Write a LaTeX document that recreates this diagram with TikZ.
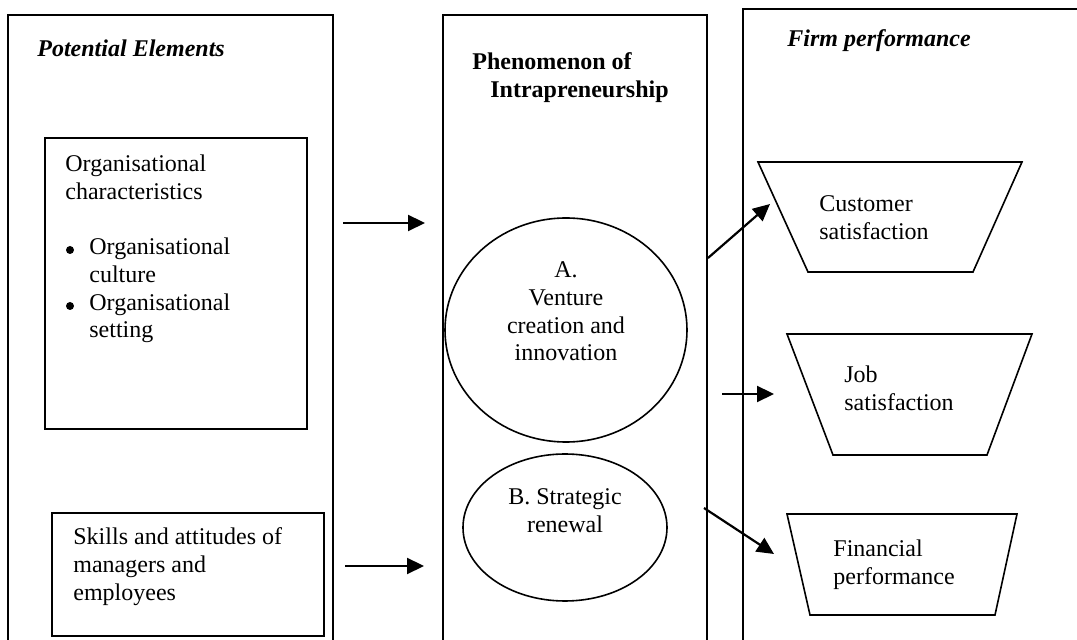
\documentclass[tikz,border=0pt]{standalone}
\usepackage{fontspec}
\setmainfont{Liberation Serif}
\usetikzlibrary{arrows.meta,shapes.geometric}

\tikzset{
  frame/.style={draw, line width=0.8pt},
  label/.style={inner sep=0pt, anchor=base west, font=\fontsize{12}{13.8}\selectfont},
  clabel/.style={label, anchor=base},
  heading/.style={label, font=\fontsize{12}{13.8}\selectfont\bfseries\itshape},
  bulletdot/.style={circle, fill, inner sep=0pt, minimum size=4pt},
  oval/.style={draw, ellipse, line width=0.8pt, inner sep=0pt},
  flow/.style={line width=1.1pt, -{Triangle[length=8.5pt,width=8pt]}}
}
\newcommand{\lines}[1]{\begin{tabular}[t]{@{}l@{}}#1\end{tabular}}
\newcommand{\clines}[1]{\begin{tabular}[t]{@{}c@{}}#1\end{tabular}}

\begin{document}
\begin{tikzpicture}[x=0.5pt,y=-0.5pt]
  \useasboundingbox (0,0) rectangle (1077,640);
  \clip (0,0) rectangle (1077,640);

  % column frames, open at the foot of the page
  \draw[frame] (8,15) rectangle (333,660);
  \draw[frame] (443,15) rectangle (707,660);
  \draw[frame] (743,9) rectangle (1090,660);

  % column headings
  \node[heading] (hpot) at (37,57) {Potential Elements};
  \node[label, font=\fontsize{12}{13.8}\selectfont\bfseries] (hphen) at (472,70)
    {\lines{Phenomenon of\\\hspace{9pt}Intrapreneurship}};
  \node[heading] (hfirm) at (787,47) {Firm performance};

  % potential elements
  \draw[frame] (45,138) rectangle (307,429);
  \node[label] (orgchar) at (65,172) {\lines{Organisational\\characteristics}};
  \node[bulletdot] (bul1) at (70,250) {};
  \node[bulletdot] (bul2) at (70,306) {};
  \node[label] (orglist) at (89,255)
    {\lines{Organisational\\culture\\Organisational\\setting}};

  \draw[frame] (52,513) rectangle (324,636);
  \node[label] (skills) at (73,545)
    {\lines{Skills and attitudes of\\managers and\\employees}};

  % phenomenon of intrapreneurship
  \node[oval, minimum width=121pt, minimum height=112pt] (ovA) at (566,330) {};
  \node[clabel] (txtA) at (566,278)
    {\clines{A.\\Venture\\creation and\\innovation}};
  \node[oval, minimum width=102pt, minimum height=73.5pt] (ovB) at (565,527.5) {};
  \node[clabel] (txtB) at (565,505) {\clines{B. Strategic\\renewal}};

  % firm performance
  \draw[frame] (758,162) -- (1022,162) -- (973,272) -- (808,272) -- cycle;
  \node[label] (cust) at (819,212) {\lines{Customer\\satisfaction}};
  \draw[frame] (787,334) -- (1032,334) -- (987,455) -- (833,455) -- cycle;
  \node[label] (job) at (844,383) {\lines{Job\\satisfaction}};
  \draw[frame] (787,514) -- (1017,514) -- (995,615) -- (810,615) -- cycle;
  \node[label] (fin) at (833,557) {\lines{Financial\\performance}};

  % connector end points
  \coordinate (s1) at (343,223); \coordinate (e1) at (425,223);
  \coordinate (s2) at (345,566); \coordinate (e2) at (424,566);
  \coordinate (s3) at (708,258); \coordinate (e3) at (770,204);
  \coordinate (s4) at (722,394); \coordinate (e4) at (774,394);
  \coordinate (s5) at (704,508); \coordinate (e5) at (774,554);

  \draw[flow] (s1) -- (e1);
  \draw[flow] (s2) -- (e2);
  \draw[flow] (s3) -- (e3);
  \draw[flow] (s4) -- (e4);
  \draw[flow] (s5) -- (e5);
\end{tikzpicture}
\end{document}
